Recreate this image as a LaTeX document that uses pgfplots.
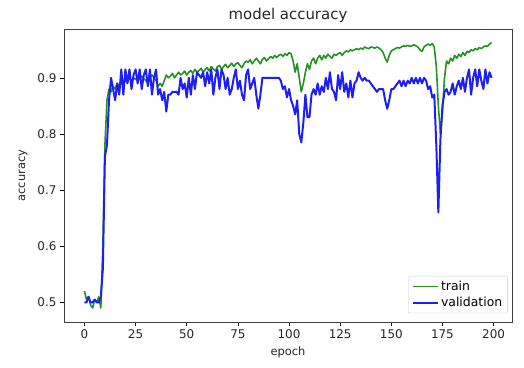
\documentclass[border=0pt]{standalone}
\usepackage{pgfplots}
\pgfplotsset{compat=1.18}
\usepackage{pgfplotstable}
\usepackage{fontspec}
\setmainfont{DejaVu Sans}
\definecolor{mgreen}{RGB}{35,145,35}
\definecolor{mblue}{RGB}{30,30,245}
\pgfplotstableread{
e t v
0 0.52 0.50
1 0.505 0.50
2 0.51 0.51
3 0.495 0.50
4 0.49 0.50
5 0.505 0.505
6 0.50 0.50
7 0.51 0.50
8 0.49 0.51
9 0.60 0.56
10 0.78 0.76
11 0.86 0.78
12 0.88 0.86
13 0.875 0.90
14 0.885 0.88
15 0.88 0.86
16 0.89 0.89
17 0.885 0.87
18 0.893 0.915
19 0.89 0.87
20 0.895 0.915
21 0.893 0.89
22 0.90 0.915
23 0.895 0.88
24 0.90 0.905
25 0.897 0.915
26 0.902 0.89
27 0.898 0.915
28 0.903 0.88
29 0.899 0.905
30 0.895 0.915
31 0.89 0.885
32 0.90 0.915
33 0.905 0.87
34 0.90 0.90
35 0.895 0.915
36 0.885 0.87
37 0.89 0.88
38 0.885 0.86
39 0.895 0.875
40 0.905 0.84
41 0.90 0.87
42 0.903 0.87
43 0.908 0.875
44 0.90 0.875
45 0.905 0.875
46 0.91 0.87
47 0.905 0.90
48 0.908 0.88
49 0.912 0.89
50 0.905 0.865
51 0.91 0.90
52 0.913 0.87
53 0.908 0.905
54 0.915 0.88
55 0.91 0.91
56 0.913 0.905
57 0.917 0.90
58 0.91 0.91
59 0.915 0.885
60 0.918 0.91
61 0.912 0.89
62 0.92 0.915
63 0.916 0.87
64 0.912 0.90
65 0.92 0.915
66 0.922 0.88
67 0.915 0.915
68 0.92 0.905
69 0.924 0.88
70 0.918 0.90
71 0.922 0.87
72 0.926 0.88
73 0.92 0.90
74 0.925 0.915
75 0.927 0.88
76 0.922 0.895
77 0.918 0.87
78 0.925 0.86
79 0.93 0.905
80 0.928 0.915
81 0.932 0.88
82 0.925 0.89
83 0.93 0.90
84 0.935 0.87
85 0.93 0.845
86 0.925 0.87
87 0.933 0.90
88 0.936 0.90
89 0.93 0.90
90 0.934 0.90
91 0.938 0.90
92 0.935 0.90
93 0.94 0.90
94 0.936 0.90
95 0.94 0.90
96 0.942 0.895
97 0.938 0.88
98 0.943 0.885
99 0.94 0.865
100 0.945 0.88
101 0.943 0.86
102 0.93 0.85
103 0.91 0.835
104 0.925 0.86
105 0.90 0.80
106 0.875 0.785
107 0.89 0.82
108 0.91 0.87
109 0.925 0.83
110 0.915 0.83
111 0.93 0.87
112 0.935 0.88
113 0.925 0.87
114 0.935 0.89
115 0.94 0.87
116 0.932 0.885
117 0.94 0.875
118 0.935 0.90
119 0.942 0.88
120 0.938 0.91
121 0.935 0.88
122 0.942 0.875
123 0.94 0.86
124 0.943 0.905
125 0.945 0.88
126 0.94 0.91
127 0.945 0.875
128 0.948 0.89
129 0.946 0.865
130 0.95 0.895
131 0.948 0.865
132 0.95 0.89
133 0.952 0.895
134 0.95 0.91
135 0.953 0.90
136 0.951 0.895
137 0.955 0.90
138 0.953 0.895
139 0.952 0.895
140 0.955 0.89
141 0.954 0.885
142 0.953 0.88
143 0.955 0.875
144 0.953 0.88
145 0.95 0.88
146 0.945 0.88
147 0.935 0.86
148 0.928 0.845
149 0.94 0.86
150 0.948 0.88
151 0.95 0.88
152 0.952 0.885
153 0.954 0.89
154 0.953 0.895
155 0.955 0.885
156 0.957 0.895
157 0.956 0.885
158 0.958 0.895
159 0.956 0.89
160 0.957 0.90
161 0.959 0.89
162 0.957 0.90
163 0.955 0.89
164 0.95 0.90
165 0.947 0.89
166 0.955 0.90
167 0.958 0.895
168 0.96 0.88
169 0.958 0.885
170 0.961 0.865
171 0.955 0.87
172 0.92 0.78
173 0.85 0.66
174 0.80 0.79
175 0.84 0.85
176 0.90 0.875
177 0.93 0.88
178 0.925 0.87
179 0.935 0.875
180 0.93 0.89
181 0.94 0.87
182 0.935 0.885
183 0.942 0.895
184 0.938 0.88
185 0.945 0.90
186 0.94 0.875
187 0.947 0.90
188 0.945 0.915
189 0.95 0.87
190 0.948 0.90
191 0.952 0.915
192 0.95 0.885
193 0.954 0.915
194 0.952 0.895
195 0.955 0.88
196 0.957 0.915
197 0.956 0.89
198 0.96 0.91
199 0.963 0.90
}\acc
\begin{document}
\begin{tikzpicture}
\begin{axis}[
  name=ax,
  scale only axis,
  width=448bp, height=293bp,
  xmin=-10, xmax=209,
  ymin=0.465, ymax=0.987,
  xtick={0,25,...,200},
  ytick={0.5,0.6,0.7,0.8,0.9},
  yticklabel style={/pgf/number format/fixed,/pgf/number format/precision=1},
  /pgf/number format/assume math mode=true,
  tick align=outside,
  tick pos=left,
  major tick length=4bp,
  tick style={black, line width=0.6pt},
  axis line style={black!75, line width=0.8pt},
  ticklabel style={font=\fontsize{12}{14}\selectfont, text=black!85},
  title={model accuracy},
  title style={font=\fontsize{15}{17}\selectfont, text=black!85, yshift=-3bp},
  xlabel={epoch},
  ylabel={accuracy},
  label style={font=\fontsize{11.5}{13}\selectfont, text=black!85},
  xlabel style={yshift=-1bp},
  ylabel style={yshift=3bp},
  legend style={font=\fontsize{12.5}{14}\selectfont, draw=black!20, rounded corners=1pt,
    at={(0.99,0.03)}, anchor=south east, inner sep=3bp, row sep=1bp},
  legend cell align=left,
  legend image code/.code={\draw[#1] (0cm,0cm) -- (0.9cm,0cm);},
]
\addplot[mgreen, line width=1.6pt, line join=round] table[x=e, y=t] {\acc};
\addlegendentry{train}
\addplot[mblue, line width=2pt, line join=round] table[x=e, y=v] {\acc};
\addlegendentry{validation}
\end{axis}
\pgfresetboundingbox
\path ([shift={(-64bp,-46bp)}]ax.south west) rectangle ([shift={(12bp,29bp)}]ax.north east);
\end{tikzpicture}
\end{document}
